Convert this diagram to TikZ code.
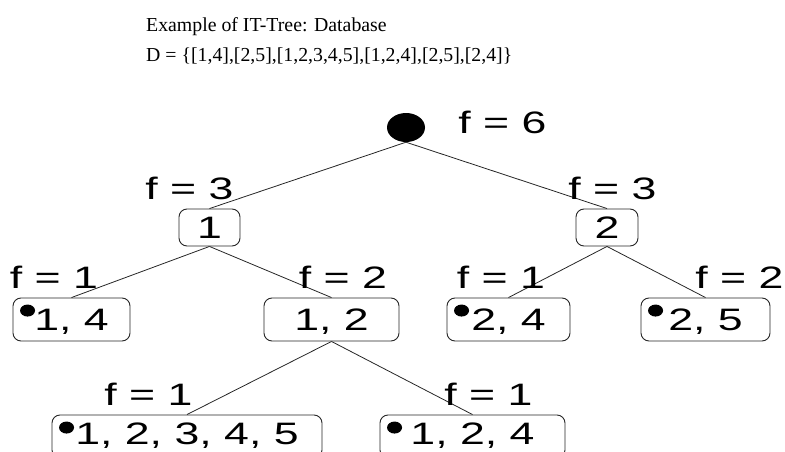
\documentclass[tikz,border=0pt]{standalone}
\usepackage{graphicx}
\usepackage{fontspec}
\setmainfont{Liberation Serif}
\newfontfamily\arialf{Liberation Sans}
\usetikzlibrary{shapes.geometric}
\newcommand\tw[1]{\scalebox{1.44}[1]{#1}}
\begin{document}
\begin{tikzpicture}[x=1pt,y=-1pt,
  tree/.style={font=\arialf\fontsize{31}{31}\selectfont},
  box/.style={draw=black!85, line width=0.9pt, rounded corners=8pt, inner sep=0pt,
              text height=22pt, text depth=0pt, tree},
  lab/.style={tree, anchor=base, inner sep=0pt},
  edge/.style={draw=black!85, line width=0.8pt},
  ttl/.style={anchor=base west, inner sep=0pt, font=\fontsize{19.8}{20}\selectfont}]
\useasboundingbox (0,0) rectangle (785,452);

% title
\node[ttl] (t1) at (146,32) {Example of IT-Tree: Database};
\node[ttl] (t2) at (146,62) {D = \{[1,4],[2,5],[1,2,3,4,5],[1,2,4],[2,5],[2,4]\}};

% nodes
\node[ellipse, fill=black, minimum width=38pt, minimum height=29pt, inner sep=0pt] (root) at (406,127.5) {};
\node[box, minimum width=61pt, minimum height=37pt] (n1) at (209.5,227.5) {\tw{1}};
\node[box, minimum width=62pt, minimum height=37pt] (n2) at (607,227.5) {\tw{2}};
\node[box, minimum width=117pt, minimum height=43pt] (b14) at (71.5,319.5) {\tw{1, 4}};
\node[box, minimum width=135pt, minimum height=43pt] (b12) at (331.5,319.5) {\tw{1, 2}};
\node[box, minimum width=123pt, minimum height=43pt] (b24) at (508.5,319.5) {\tw{2, 4}};
\node[box, minimum width=129pt, minimum height=43pt] (b25) at (705.5,319.5) {\tw{2, 5}};
\node[box, text depth=6pt, minimum width=270pt, minimum height=43pt] (b12345) at (187,436.5) {\tw{1, 2, 3, 4, 5}};
\node[box, text depth=6pt, minimum width=185pt, minimum height=43pt] (b124) at (472.5,436.5) {\tw{1, 2, 4}};

% bullets
\foreach \b in {b14,b24,b25,b12345,b124}
  \fill ([xshift=15pt,yshift=-13pt]\b.north west) ellipse [x radius=7.5pt, y radius=6pt];

% edges
\draw[edge] (root.south) -- (n1.north);
\draw[edge] (root.south) -- (n2.north);
\draw[edge] (n1.south) -- (b14.north);
\draw[edge] (n1.south) -- (b12.north);
\draw[edge] (n2.south) -- (b24.north);
\draw[edge] (n2.south) -- (b25.north);
\draw[edge] (b12.south) -- (b12345.north);
\draw[edge] (b12.south) -- (b124.north);

% frequency labels
\node[lab] (f6) at (502.5,133) {\tw{f = 6}};
\node[lab] (f3a) at (189.5,199) {\tw{f = 3}};
\node[lab] (f3b) at (612.5,199) {\tw{f = 3}};
\node[lab] (f1a) at (54,288) {\tw{f = 1}};
\node[lab] (f2a) at (343,288) {\tw{f = 2}};
\node[lab] (f1b) at (501,288) {\tw{f = 1}};
\node[lab] (f2b) at (739.5,288) {\tw{f = 2}};
\node[lab] (f1c) at (148.5,405) {\tw{f = 1}};
\node[lab] (f1d) at (488.5,405) {\tw{f = 1}};
\end{tikzpicture}
\end{document}
